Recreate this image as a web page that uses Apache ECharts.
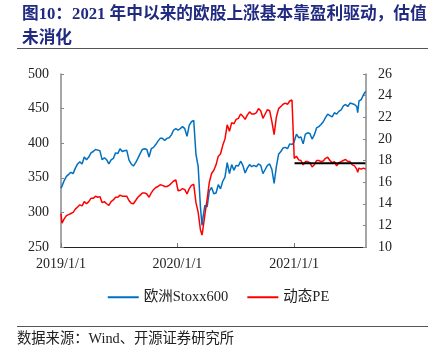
<!DOCTYPE html>
<html><head><meta charset="utf-8">
<script src="https://cdn.jsdelivr.net/npm/echarts@6/dist/echarts.min.js"></script>
<style>html,body{margin:0;padding:0;background:#fff}#c{width:437px;height:355px}</style>
</head><body><div id="c"></div>
<script>
var titleText = '图10：2021 年中以来的欧股上涨基本靠盈利驱动，估值\n未消化';
var sourceText = '数据来源：Wind、开源证券研究所';
var seriesNames = ['欧洲Stoxx600', '动态PE'];
var leftTicks = {min: 250, max: 500, interval: 50};
var rightTicks = {min: 10, max: 26, interval: 2};
var xRange = ['2019-01-01', '2021-08-14'];

var dates = [
 '2019-01-01','2019-01-04','2019-01-11','2019-01-18','2019-01-25','2019-02-01','2019-02-08','2019-02-15','2019-02-22',
 '2019-03-01','2019-03-08','2019-03-15','2019-03-22','2019-03-29','2019-04-05','2019-04-12','2019-04-19','2019-04-26',
 '2019-05-03','2019-05-10','2019-05-17','2019-05-24','2019-05-31','2019-06-07','2019-06-14','2019-06-21','2019-06-28',
 '2019-07-05','2019-07-12','2019-07-19','2019-07-26','2019-08-02','2019-08-09','2019-08-16','2019-08-23','2019-08-30',
 '2019-09-06','2019-09-13','2019-09-20','2019-09-27','2019-10-04','2019-10-11','2019-10-18','2019-10-25','2019-11-01',
 '2019-11-08','2019-11-15','2019-11-22','2019-11-29','2019-12-06','2019-12-13','2019-12-20','2019-12-27',
 '2020-01-03','2020-01-10','2020-01-17','2020-01-24','2020-01-31','2020-02-07','2020-02-14','2020-02-21','2020-02-28',
 '2020-03-06','2020-03-13','2020-03-18','2020-03-20','2020-03-27','2020-04-03','2020-04-10','2020-04-17','2020-04-24',
 '2020-05-01','2020-05-08','2020-05-15','2020-05-22','2020-05-29','2020-06-05','2020-06-12','2020-06-19','2020-06-26',
 '2020-07-03','2020-07-10','2020-07-17','2020-07-24','2020-07-31','2020-08-07','2020-08-14','2020-08-21','2020-08-28',
 '2020-09-04','2020-09-11','2020-09-18','2020-09-25','2020-10-02','2020-10-09','2020-10-16','2020-10-23','2020-10-30',
 '2020-11-06','2020-11-13','2020-11-20','2020-11-27','2020-12-04','2020-12-11','2020-12-18','2020-12-25','2020-12-31',
 '2021-01-01','2021-01-08','2021-01-15','2021-01-22','2021-01-29','2021-02-05','2021-02-12','2021-02-19','2021-02-26',
 '2021-03-05','2021-03-12','2021-03-19','2021-03-26','2021-04-02','2021-04-09','2021-04-16','2021-04-23','2021-04-30',
 '2021-05-07','2021-05-14','2021-05-21','2021-05-28','2021-06-04','2021-06-11','2021-06-18','2021-06-25','2021-07-02',
 '2021-07-09','2021-07-16','2021-07-19','2021-07-23','2021-07-30','2021-08-06','2021-08-13'
];
var stoxx600 = [
 335,338,346,352,355,358,356,364,370,
 373,370,380,376,380,386,388,391,390,
 389,376,379,376,370,376,378,386,385,
 392,388,389,390,376,370,367,372,378,
 385,391,392,391,380,392,394,398,403,
 407,407,404,407,408,412,419,421,
 419,421,424,421,410,426,431,433,384,
 366,308,281,290,310,308,331,336,327,
 328,340,334,345,351,372,356,369,361,
 368,367,374,368,357,364,369,366,368,
 366,370,368,356,362,368,370,362,342,
 366,384,388,393,394,392,399,398,401,
 402,413,408,409,399,413,415,414,406,
 412,422,424,427,431,437,442,440,438,
 444,442,446,448,454,456,453,458,457,
 456,453,444,461,463,470,475
];
var dynamicPE = [
 13.1,12.2,12.6,12.9,13.0,13.1,13.2,13.5,13.7,
 13.9,13.8,14.2,14.0,14.2,14.5,14.5,14.7,14.6,
 14.66,14.1,14.2,14.0,13.85,14.2,14.35,14.6,14.6,
 14.8,14.7,14.7,14.7,14.3,14.05,14.0,14.3,14.6,
 14.8,15.0,15.0,14.9,14.6,15.0,15.3,15.5,15.6,
 15.75,15.7,15.6,15.6,15.7,15.9,16.1,16.2,
 15.2,15.25,15.4,15.3,14.9,15.4,15.7,15.8,14.1,
 13.2,11.6,11.1,11.5,13.0,14.4,16.0,16.8,17.1,
 17.6,18.4,18.6,19.4,20.0,21.3,20.7,21.5,21.4,
 21.8,21.9,22.3,22.1,21.8,22.2,22.5,22.3,22.3,
 22.4,22.8,22.6,21.9,22.3,22.7,22.6,21.6,20.4,
 22.0,22.8,23.0,23.2,23.3,23.2,23.5,23.6,23.7,
 18.2,18.4,18.06,18.0,17.6,17.9,17.9,17.8,17.4,
 17.6,18.0,18.0,17.9,17.95,18.2,18.3,18.0,17.8,
 17.9,17.5,17.8,17.9,18.0,18.1,17.9,17.9,17.6,
 17.5,17.2,16.9,17.3,17.2,17.3,17.2
];
var avgPE2021 = 17.75;
var avgPEDates = ['2021-01-02', '2021-08-12'];

function pairs(xs, ys) { return xs.map(function (d, i) { return [d, ys[i]]; }); }

var chart = echarts.init(document.getElementById('c'));
var serif = '"Liberation Serif", "Noto Sans CJK SC", serif';
var DAY = 86400000;
chart.setOption({
  animation: false,
  textStyle: {fontFamily: serif},
  title: {
    text: titleText, left: 17, top: -2,
    textStyle: {fontFamily: serif, fontSize: 16.7, fontWeight: 'bold', color: '#1f2a80', lineHeight: 24}
  },
  graphic: [
    {type: 'line', shape: {x1: 17, y1: 48.5, x2: 428, y2: 48.5}, style: {stroke: '#555', lineWidth: 1}},
    {type: 'line', shape: {x1: 17, y1: 326.5, x2: 428, y2: 326.5}, style: {stroke: '#555', lineWidth: 1}},
    {type: 'text', left: 17, top: 332, style: {text: sourceText, font: '14.3px ' + serif, fill: '#222'}}
  ],
  legend: {
    data: seriesNames, top: 285, left: 'center', itemGap: 19, itemWidth: 31, itemHeight: 2, icon: 'rect',
    textStyle: {fontFamily: serif, fontSize: 14.5, color: '#222'}
  },
  grid: {left: 61, right: 71, top: 74, bottom: 108, containLabel: false},
  xAxis: {
    type: 'time', min: xRange[0], max: xRange[1],
    minInterval: 365 * DAY, maxInterval: 366 * DAY,
    axisLine: {lineStyle: {color: '#222', width: 1}},
    axisTick: {inside: true, length: 4, lineStyle: {color: '#777'}},
    splitLine: {show: false},
    axisLabel: {
      fontFamily: serif, fontSize: 14, color: '#222', margin: 10, showMinLabel: true, hideOverlap: false,
      formatter: function (v) { var d = new Date(v); return d.getFullYear() + '/' + (d.getMonth() + 1) + '/' + d.getDate(); }
    }
  },
  yAxis: [
    {type: 'value', min: leftTicks.min, max: leftTicks.max, interval: leftTicks.interval,
     axisLine: {show: true, lineStyle: {color: '#888', width: 1.5}},
     axisTick: {show: true, inside: true, length: 3, lineStyle: {color: '#888'}},
     splitLine: {show: false},
     axisLabel: {fontFamily: serif, fontSize: 14, color: '#222', margin: 12}},
    {type: 'value', min: rightTicks.min, max: rightTicks.max, interval: rightTicks.interval, position: 'right',
     axisLine: {show: true, lineStyle: {color: '#888', width: 1.5}},
     axisTick: {show: true, inside: true, length: 3, lineStyle: {color: '#888'}},
     splitLine: {show: false},
     axisLabel: {fontFamily: serif, fontSize: 14, color: '#222', margin: 12}}
  ],
  series: [
    {name: seriesNames[0], type: 'line', yAxisIndex: 0, data: pairs(dates, stoxx600), showSymbol: false,
     lineStyle: {color: '#0070c0', width: 1.5}, itemStyle: {color: '#0070c0'}},
    {name: seriesNames[1], type: 'line', yAxisIndex: 1, data: pairs(dates, dynamicPE), showSymbol: false,
     lineStyle: {color: '#ff0000', width: 1.5}, itemStyle: {color: '#ff0000'}},
    {name: 'avg', type: 'line', yAxisIndex: 1, data: pairs(avgPEDates, [avgPE2021, avgPE2021]), showSymbol: false,
     lineStyle: {color: '#000', width: 2}, itemStyle: {color: '#000'}, z: 5}
  ]
});
</script></body></html>
